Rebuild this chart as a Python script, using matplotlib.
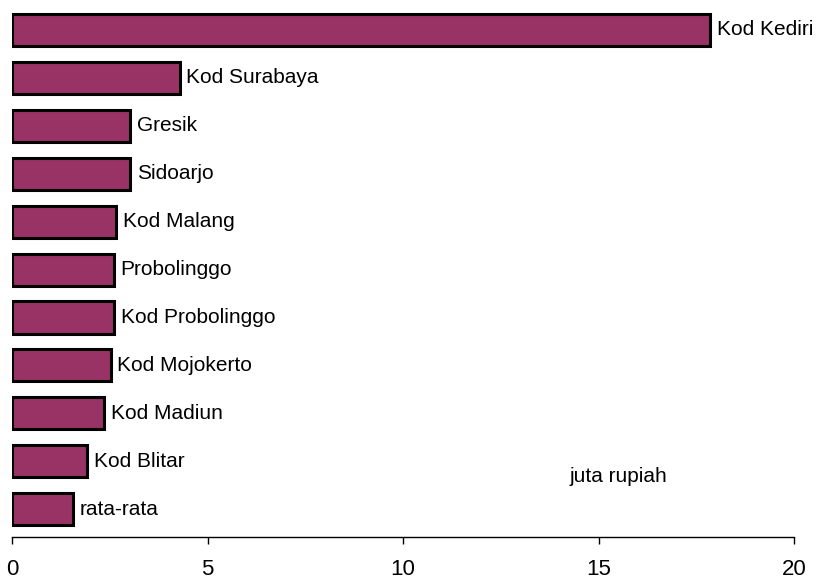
import matplotlib

matplotlib.use("Agg")
import matplotlib.pyplot as plt

# values in juta rupiah, bottom to top
regions = ["rata-rata", "Kod Blitar", "Kod Madiun", "Kod Mojokerto", "Kod Probolinggo",
           "Probolinggo", "Kod Malang", "Sidoarjo", "Gresik", "Kod Surabaya", "Kod Kediri"]
values = [1.57, 1.93, 2.36, 2.52, 2.62, 2.62, 2.67, 3.03, 3.03, 4.29, 17.86]
xticks = [0, 5, 10, 15, 20]

plt.rcParams["font.family"] = ["Liberation Sans", "DejaVu Sans"]

fig = plt.figure(figsize=(8.17, 5.81), dpi=100)
ax = fig.add_axes([12 / 817, 44 / 581, (794 - 12) / 817, (537 - 6) / 581])

ypos = list(range(len(regions)))
ax.barh(ypos, values, height=0.67, color="#993366", edgecolor="black", linewidth=2.2)
for y, v, name in zip(ypos, values, regions):
    ax.annotate(name, (v, y), xytext=(4.5, 0), textcoords="offset points",
                ha="left", va="center", fontsize=15, color="black")

ax.text(14.27, 0.68, "juta rupiah", fontsize=15, ha="left", va="center")

ax.set_xlim(0, 20)
ax.set_ylim(-0.58, 10.5)
ax.set_xticks(xticks)
ax.set_xticklabels([str(t) for t in xticks], fontsize=16)
ax.set_yticks([])
ax.tick_params(axis="x", direction="out", length=5, width=1, pad=11)
for s in ["top", "right", "left"]:
    ax.spines[s].set_visible(False)
ax.spines["bottom"].set_linewidth(1)

fig.savefig("out.png", dpi=100)
plt.close(fig)
